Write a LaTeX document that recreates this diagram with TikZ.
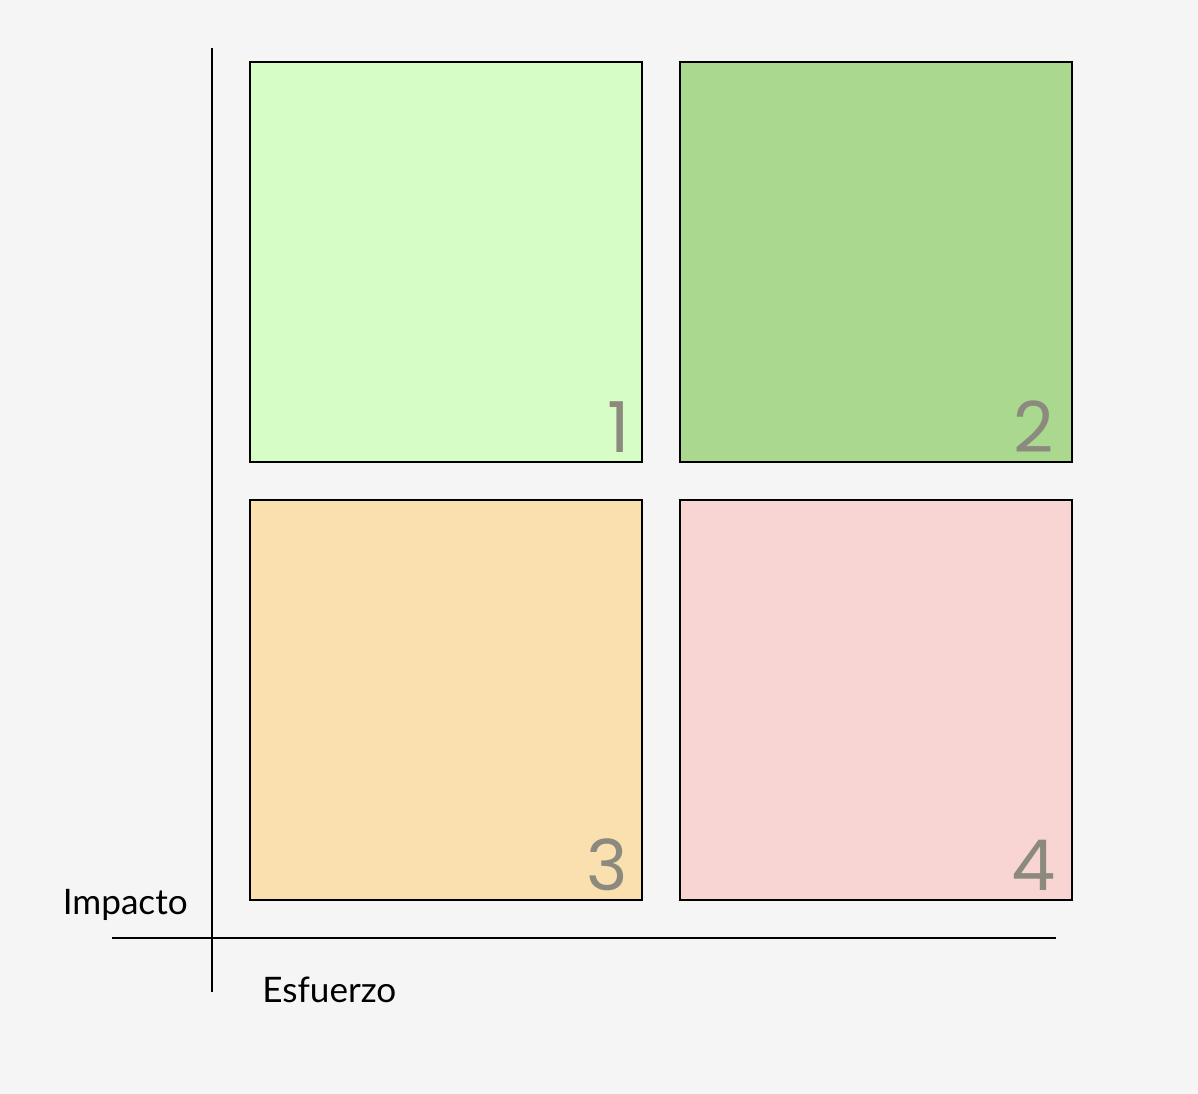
\documentclass[tikz,border=0pt]{standalone}
\usepackage{fontspec}
\setmainfont{Lato}
\newfontfamily\numfont{Poppins}
\usetikzlibrary{positioning}
\definecolor{bgcol}{HTML}{F5F5F5}
\definecolor{lightgreen}{HTML}{D7FDC6}
\definecolor{midgreen}{HTML}{AAD88F}
\definecolor{sand}{HTML}{F9E0AE}
\definecolor{rose}{HTML}{F8D5D3}
\definecolor{numgrey}{HTML}{8C8A7E}

\begin{document}
\begin{tikzpicture}[x=0.02cm, y=-0.02cm,
    quad/.style={draw=black, line width=1.1pt, minimum width=7.84cm, minimum height=8cm, inner sep=0pt},
    num/.style={text=numgrey, font=\numfont\fontsize{40}{40}\selectfont, inner sep=0pt, anchor=base east},
    axislabel/.style={font=\fontsize{20}{20}\selectfont, inner sep=0pt}]
          \fill[bgcol] (0,0) rectangle (1198,1094);

          % quadrants
          \node[quad, fill=lightgreen] (q1) at (446,262) {};
          \node[quad, fill=midgreen]   (q2) at (876,262) {};
          \node[quad, fill=sand]       (q3) at (446,700) {};
          \node[quad, fill=rose]       (q4) at (876,700) {};

          \node[num] at ([xshift=-0.26cm, yshift=0.2cm]q1.south east) {1};
          \node[num] at ([xshift=-0.38cm, yshift=0.2cm]q2.south east) {2};
          \node[num] at ([xshift=-0.3cm, yshift=0.2cm]q3.south east) {3};
          \node[num] at ([xshift=-0.34cm, yshift=0.2cm]q4.south east) {4};

          % axes
          \coordinate (ytop) at (212,48);
          \coordinate (ybot) at (212,992);
          \coordinate (xleft) at (112,938);
          \coordinate (xright) at (1056,938);
          \draw[line width=1.1pt] (ytop) -- (ybot);
          \draw[line width=1.1pt] (xleft) -- (xright);

          \node[axislabel, anchor=base east] (impacto) at (188,915) {Impacto};
          \node[axislabel, anchor=base west] (esfuerzo) at (262,1003) {Esfuerzo};
\end{tikzpicture}
\end{document}
